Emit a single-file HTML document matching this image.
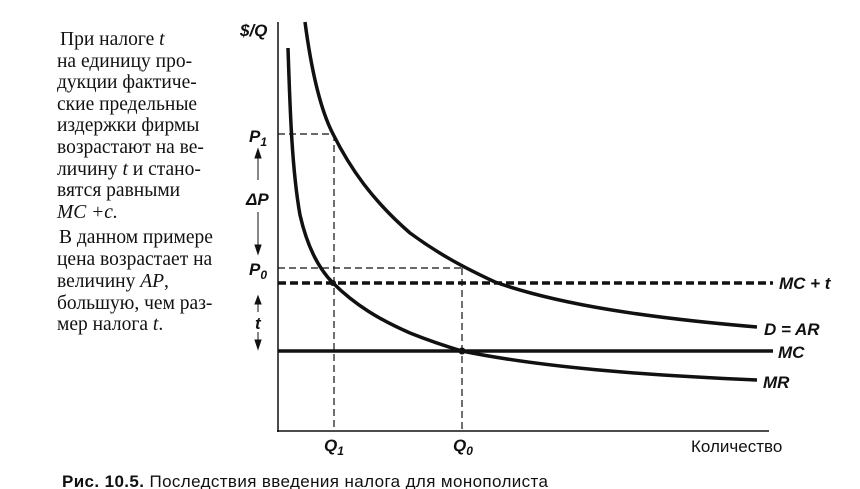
<!DOCTYPE html>
<html><head><meta charset="utf-8"><style>
html,body{margin:0;padding:0;background:#fff;width:860px;height:489px;overflow:hidden}
svg{display:block}
.s{font-family:"Liberation Serif",serif;font-size:19.5px;fill:#111}
.a{font-family:"Liberation Sans",sans-serif;font-style:italic;font-size:17px;fill:#111;font-weight:bold}
</style></head><body>
<svg width="860" height="489" viewBox="0 0 860 489" xmlns="http://www.w3.org/2000/svg">
<g class="s">
<text x="60" y="45">При налоге <tspan font-style="italic">t</tspan></text>
<text x="57" y="67">на единицу про-</text>
<text x="57" y="88">дукции фактиче-</text>
<text x="57" y="110">ские предельные</text>
<text x="57" y="131">издержки фирмы</text>
<text x="57" y="153">возрастают на ве-</text>
<text x="57" y="175">личину <tspan font-style="italic">t</tspan> и стано-</text>
<text x="57" y="196">вятся равными</text>
<text x="57" y="218" font-style="italic">MC +c.</text>
<text x="59" y="243">В данном примере</text>
<text x="57" y="265">цена возрастает на</text>
<text x="57" y="287">величину <tspan font-style="italic">AP</tspan>,</text>
<text x="57" y="309">большую, чем раз-</text>
<text x="57" y="330">мер налога <tspan font-style="italic">t</tspan>.</text>
</g>
<line x1="278" y1="22" x2="278" y2="432" stroke="#111" stroke-width="1.5"/>
<line x1="277" y1="431" x2="769" y2="431" stroke="#111" stroke-width="1.5"/>
<text class="a" x="240" y="36">$/Q</text>
<g stroke="#111" stroke-width="1.2" stroke-dasharray="7,4" fill="none">
<line x1="278" y1="134" x2="334" y2="134"/>
<line x1="334" y1="134" x2="334" y2="431"/>
<line x1="278" y1="268" x2="462" y2="268"/>
<line x1="462" y1="268" x2="462" y2="431"/>
</g>
<line x1="278" y1="283" x2="773" y2="283" stroke="#111" stroke-width="3.5" stroke-dasharray="8,4"/>
<line x1="278" y1="351" x2="773" y2="351" stroke="#111" stroke-width="3.5"/>
<path d="M305,22 C310,60 318,105 333,134 C350,168 372,200 410,233 C440,255 465,268 495,282 C560,305 650,318 757,327" fill="none" stroke="#111" stroke-width="3.5"/>
<path d="M288,48 C290,110 292,170 300,215 C308,250 320,270 333,283 C355,305 380,320 410,333 C430,341 445,346 462,351 C540,367 640,375 757,380" fill="none" stroke="#111" stroke-width="3.5"/>
<circle cx="462" cy="351" r="3.5" fill="#111"/>
<circle cx="333" cy="283" r="3" fill="#111"/>
<g stroke="#111" stroke-width="1" fill="#111">
<line x1="258" y1="152" x2="258" y2="180"/><polygon points="255,158 258,149 261,158"/>
<line x1="258" y1="212" x2="258" y2="252"/><polygon points="255,245 258,254 261,245"/>
<line x1="258" y1="298" x2="258" y2="312"/><polygon points="255,304 258,296 261,304"/>
<line x1="258" y1="332" x2="258" y2="348"/><polygon points="255,340 258,349 261,340"/>
</g>
<g class="a">
<text x="249" y="142">P<tspan font-size="12" dy="4">1</tspan></text>
<text x="246" y="205">ΔP</text>
<text x="249" y="275">P<tspan font-size="12" dy="4">0</tspan></text>
<text x="255" y="329">t</text>
<text x="324" y="451">Q<tspan font-size="12" dy="4">1</tspan></text>
<text x="453" y="451">Q<tspan font-size="12" dy="4">0</tspan></text>
<text x="779" y="289">MC + t</text>
<text x="764" y="335">D = AR</text>
<text x="778" y="358">MC</text>
<text x="763" y="388">MR</text>
</g>
<text x="691" y="452" font-family="Liberation Sans,sans-serif" font-size="17" fill="#111">Количество</text>
<text x="62" y="487" font-family="Liberation Sans,sans-serif" font-size="17" fill="#111" textLength="486"><tspan font-weight="bold">Рис. 10.5.</tspan> Последствия введения налога для монополиста</text>
</svg>
</body></html>
